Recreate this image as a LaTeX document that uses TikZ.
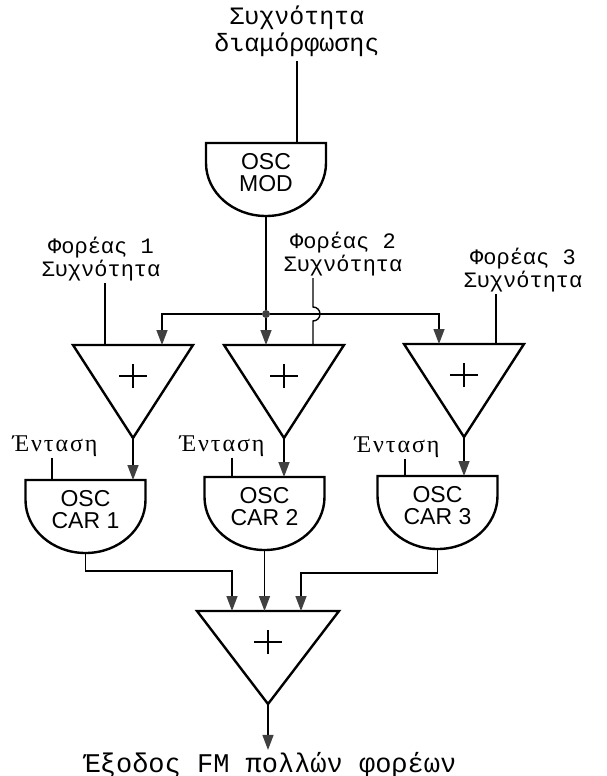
\documentclass[tikz,border=0pt]{standalone}
\usepackage{fontspec}
\setmainfont{Liberation Serif}
\setsansfont{Liberation Sans}
\setmonofont{Liberation Mono}
\newfontfamily\gainfont[LetterSpace=8]{Liberation Serif}
\usepackage{tikz}
\usetikzlibrary{positioning, arrows.meta}
\tikzset{>={Triangle[length=15pt,width=11pt,color=black!75]},
wire/.style={line width=1.4pt},
body/.style={line width=2.4pt},
osc/.style={minimum width=120pt, minimum height=73pt, inner sep=0pt, outer sep=0pt,
  align=center, text depth=14pt, font=\sffamily\fontsize{23}{22.5}\selectfont},
adder/.style={minimum width=120pt, minimum height=93pt, inner sep=0pt, outer sep=0pt},
mono/.style={align=center, inner sep=2pt, font=\ttfamily\fontsize{22}{23}\selectfont},
gain/.style={inner sep=1pt, font=\gainfont\fontsize{24}{24}\selectfont},
dot/.style={circle, fill=black!75, inner sep=0pt, minimum size=8pt}}
\newcommand{\oscbody}[1]{\draw[body] (#1.north west) -- ++(0,20)
  arc[start angle=180, end angle=360, x radius=60pt, y radius=53pt] -- (#1.north east) -- cycle;}
\newcommand{\addbody}[1]{\draw[body] (#1.north west) -- (#1.north east) -- (#1.south) -- cycle;
  \draw[line width=2pt] ([yshift=-31pt]#1.north) +(-14pt,0) -- +(14pt,0) +(0,-12pt) -- +(0,12pt);}

\begin{document}
\begin{tikzpicture}[x=1pt,y=-1pt]
\path[use as bounding box, fill=white] (0,0) rectangle (606,776);
\node[mono, font=\ttfamily\fontsize{25}{27}\selectfont, inner sep=4pt] (modin) at (297,31.5) {Συχνότητα\\διαμόρφωσης};
\node[osc] (mod) at (266,179.5) {OSC\\MOD};
\node[dot] (j) at (266,314) {};
\coordinate (h2) at (313,314);
\node[mono] (f1) at (101,259) {Φορέας 1\\Συχνότητα};
\node[mono] (f2) at (343,254) {Φορέας 2\\Συχνότητα};
\node[mono] (f3) at (523,270) {Φορέας 3\\Συχνότητα};
\node[adder] (a1) at (133,391.5) {};
\node[adder] (a2) at (284,391.5) {};
\node[adder] (a3) at (464,390.5) {};
\node[gain] (e1) at (55,446) {Ένταση};
\node[gain] (e2) at (222,446) {Ένταση};
\node[gain] (e3) at (397,447) {Ένταση};
\node[osc] (c1) at (85.5,516.5) {OSC\\CAR 1};
\node[osc] (c2) at (264.5,513.5) {OSC\\CAR 2};
\node[osc] (c3) at (437.5,512.5) {OSC\\CAR 3};
\node[adder, minimum width=142pt] (sum) at (268,657.5) {};
\node[mono, font=\ttfamily\fontsize{27}{27}\selectfont] (out) at (270,765) {Έξοδος FM πολλών φορέων};

\oscbody{mod}
\oscbody{c1}
\oscbody{c2}
\oscbody{c3}
\addbody{a1}
\addbody{a2}
\addbody{a3}
\addbody{sum}

\draw[wire] (modin.south) -- (modin.south |- mod.north);
\draw[wire] (mod.south) -- (j);
\draw[wire,->] (j) -| ([xshift=29pt]a1.north);
\draw[wire,->] (j) -- (j |- a2.north);
\draw[wire,->] (j) -| ([xshift=-25pt]a3.north);
\draw[wire] ([xshift=4pt]f1.south) -- ([xshift=-28pt]a1.north);
\draw[wire] ([xshift=-30pt]f2.south) -- ([yshift=7pt]h2)
  arc[start angle=90, end angle=-90, radius=7pt] -- ([xshift=29pt]a2.north);
\draw[wire] ([xshift=-27pt]f3.south) -- ([xshift=32pt]a3.north);
\draw[wire] ([xshift=-3pt]e1.south) -- ([xshift=-33.5pt]c1.north);
\draw[wire] ([xshift=10pt]e2.south) -- ([xshift=-32.5pt]c2.north);
\draw[wire] ([xshift=8pt]e3.south) -- ([xshift=-32.5pt]c3.north);
\draw[wire,->] (a1.south) -- (a1.south |- c1.north);
\draw[wire,->] (a2.south) -- (a2.south |- c2.north);
\draw[wire,->] (a3.south) -- (a3.south |- c3.north);
\draw[wire,->] (c1.south) -- ++(0,18) -| ([xshift=-36pt]sum.north);
\draw[wire,->] (c2.south) -- (c2.south |- sum.north);
\draw[wire,->] (c3.south) -- ++(0,24) -| ([xshift=33pt]sum.north);
\draw[wire,->] (sum.south) -- (sum.south |- out.north);
\end{tikzpicture}
\end{document}
